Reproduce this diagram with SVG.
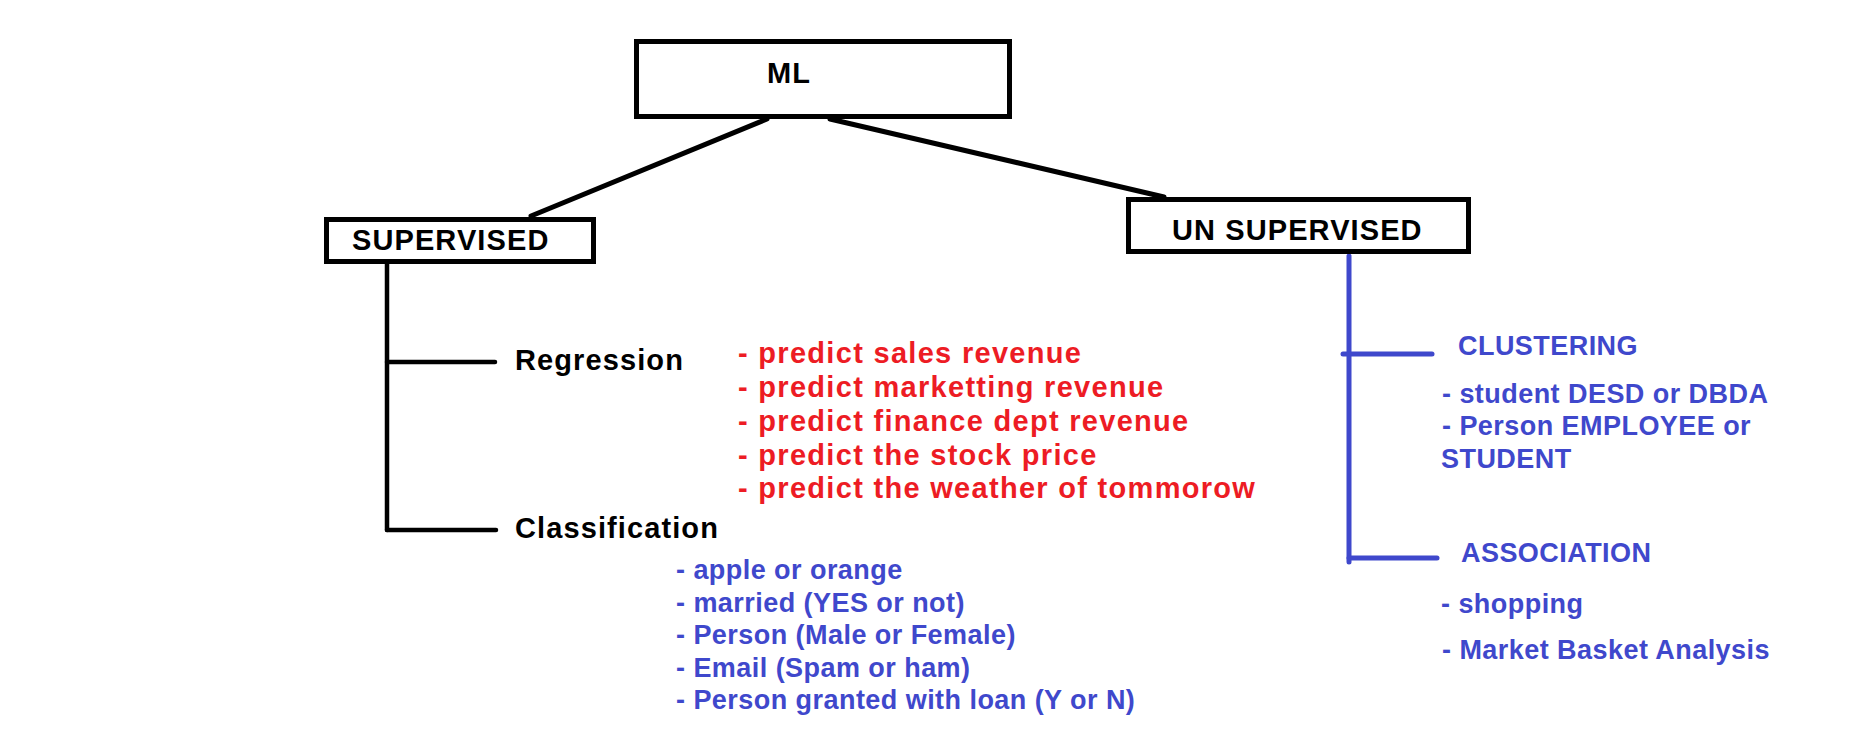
<svg xmlns="http://www.w3.org/2000/svg" width="1850" height="743" viewBox="0 0 1850 743">
<style>
.box{fill:#ffffff;stroke:#000000;stroke-width:5}
.lk{fill:none;stroke:#000000;stroke-width:4.5;stroke-linecap:round}
.lm{fill:none;stroke:#000000;stroke-width:5;stroke-linecap:round}
.lb{fill:none;stroke:#3F48CC;stroke-width:5;stroke-linecap:round}
.t{font-family:"Liberation Sans",Arial,sans-serif;font-weight:bold}
.tk{font-size:29px;letter-spacing:1.1px;fill:#000000}
.tr{font-size:29px;letter-spacing:1.3px;fill:#ED1C24}
.tb{font-size:27px;letter-spacing:0.45px;fill:#3F48CC}
</style>
<rect x="0" y="0" width="1850" height="743" fill="#ffffff"/>
<g id="connectors">
<line class="lm" x1="767" y1="119" x2="531" y2="216"/>
<line class="lm" x1="830" y1="119" x2="1164" y2="197"/>
<line class="lk" x1="387" y1="263" x2="387" y2="530"/>
<line class="lk" x1="387" y1="362" x2="495" y2="362"/>
<line class="lk" x1="387" y1="530" x2="496" y2="530"/>
<line class="lb" x1="1349" y1="256" x2="1349" y2="562"/>
<line class="lb" x1="1343" y1="354" x2="1432" y2="354"/>
<line class="lb" x1="1349" y1="558" x2="1437" y2="558"/>
</g>
<g id="ml">
<rect class="box" x="636.5" y="41.5" width="373" height="75"/>
<text class="t tk" x="767" y="83">ML</text>
</g>
<g id="supervised">
<rect class="box" x="326.5" y="219.5" width="267" height="42"/>
<text class="t tk" x="352" y="250">SUPERVISED</text>
</g>
<g id="unsupervised">
<rect class="box" x="1128.5" y="199.5" width="340" height="52"/>
<text class="t tk" x="1172" y="240">UN SUPERVISED</text>
</g>
<g id="regression">
<text class="t tk" x="515" y="370">Regression</text>
<text class="t tr" x="738" y="363">- predict sales revenue</text>
<text class="t tr" x="738" y="397">- predict marketting revenue</text>
<text class="t tr" x="738" y="431">- predict finance dept revenue</text>
<text class="t tr" x="738" y="465">- predict the stock price</text>
<text class="t tr" x="738" y="498">- predict the weather of tommorow</text>
</g>
<g id="classification">
<text class="t tk" x="515" y="538">Classification</text>
<text class="t tb" x="676" y="579">- apple or orange</text>
<text class="t tb" x="676" y="612">- married (YES or not)</text>
<text class="t tb" x="676" y="644">- Person (Male or Female)</text>
<text class="t tb" x="676" y="677">- Email (Spam or ham)</text>
<text class="t tb" x="676" y="709">- Person granted with loan (Y or N)</text>
</g>
<g id="clustering">
<text class="t tb" x="1458" y="355">CLUSTERING</text>
<text class="t tb" x="1442" y="403">- student DESD or DBDA</text>
<text class="t tb" x="1442" y="435">- Person EMPLOYEE or</text>
<text class="t tb" x="1441" y="468">STUDENT</text>
</g>
<g id="association">
<text class="t tb" x="1461" y="562">ASSOCIATION</text>
<text class="t tb" x="1441" y="613">- shopping</text>
<text class="t tb" x="1442" y="659">- Market Basket Analysis</text>
</g>
</svg>
